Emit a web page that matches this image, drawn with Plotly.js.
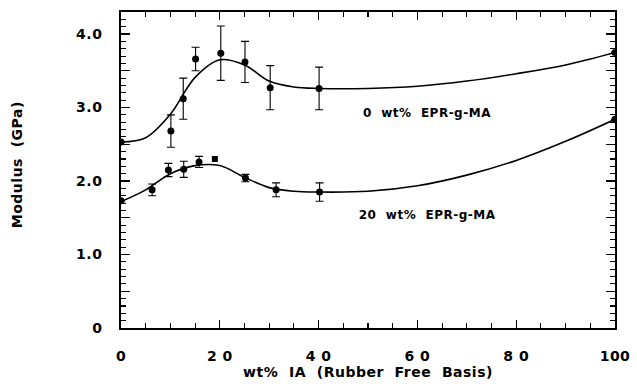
<!DOCTYPE html>
<html>
<head>
<meta charset="utf-8">
<script src="https://cdn.plot.ly/plotly-3.0.1.min.js"></script>
<style>
  html, body { margin: 0; padding: 0; background: #fff; }
  #chart { width: 637px; height: 384px; }
  .main-svg text { letter-spacing: 0.5px; }
</style>
</head>
<body>
<div id="chart"></div>
<script>
// ---- data ----
// 0 wt% EPR-g-MA : measured points
var x0 = [0, 10.1, 12.6, 15.1, 20.2, 25.1, 30.2, 40.1, 100];
var y0 = [2.53, 2.68, 3.12, 3.66, 3.74, 3.62, 3.27, 3.26, 3.75];
var e0 = [0, 0.22, 0.28, 0.16, 0.37, 0.28, 0.30, 0.29, 0];
// 0 wt% fitted curve
var cx0 = [0, 5, 10, 15, 20, 25, 30, 35, 40, 50, 60, 70, 80, 90, 100];
var cy0 = [2.53, 2.59, 2.91, 3.41, 3.65, 3.58, 3.36, 3.28, 3.26, 3.26, 3.29, 3.36, 3.46, 3.58, 3.75];

// 20 wt% EPR-g-MA : measured points
var x1 = [0, 6.3, 9.6, 12.7, 15.8, 25.2, 31.4, 40.2, 100];
var y1 = [1.73, 1.88, 2.15, 2.16, 2.26, 2.04, 1.88, 1.85, 2.84];
var e1 = [0, 0.08, 0.09, 0.11, 0.075, 0.05, 0.095, 0.125, 0];
// 20 wt% single point drawn as a square
var xs = [19.0];
var ys = [2.30];
// 20 wt% fitted curve
var cx1 = [0, 5, 10, 15, 20, 25, 30, 35, 40, 50, 60, 70, 80, 90, 100];
var cy1 = [1.72, 1.88, 2.10, 2.21, 2.21, 2.05, 1.91, 1.86, 1.85, 1.86, 1.935, 2.08, 2.28, 2.54, 2.84];

// ticks / labels
var xTickVals = [0, 20, 40, 60, 80, 100];
var xTickText = ["0", "2 0", "4 0", "6 0", "8 0", "100"];
var yTickVals = [0, 0.5, 1, 1.5, 2, 2.5, 3, 3.5, 4];
var yTickText = ["0", "", "1.0", "", "2.0", "", "3.0", "", "4.0"];
var label0 = "0  wt%  EPR-g-MA";
var label1 = "20  wt%  EPR-g-MA";
var xTitle = "wt%  IA  (Rubber  Free  Basis)";
var yTitle = "Modulus  (GPa)";

var FONT = "DejaVu Sans, Liberation Sans, Arial, sans-serif";
function f(size) { return { family: FONT, size: size, color: "#000", weight: "bold" }; }

var curveLine = { color: "#000", width: 1.6, shape: "spline", smoothing: 1 };
var errStyle = function (arr) {
  return { type: "data", array: arr, visible: true, color: "#000", thickness: 1.1, width: 4 };
};

var traces = [
  { x: cx0, y: cy0, mode: "lines", line: curveLine, hoverinfo: "skip", showlegend: false },
  { x: cx1, y: cy1, mode: "lines", line: curveLine, hoverinfo: "skip", showlegend: false },
  { x: x0, y: y0, mode: "markers", marker: { color: "#000", size: 7 }, error_y: errStyle(e0), showlegend: false },
  { x: x1, y: y1, mode: "markers", marker: { color: "#000", size: 7 }, error_y: errStyle(e1), showlegend: false },
  { x: xs, y: ys, mode: "markers", marker: { color: "#000", size: 6, symbol: "square" }, showlegend: false }
];

var layout = {
  width: 637, height: 384,
  margin: { l: 121, r: 22, t: 12, b: 56 },
  paper_bgcolor: "#fff", plot_bgcolor: "#fff",
  font: f(14),
  xaxis: {
    range: [0, 100], showgrid: false, zeroline: false,
    showline: true, linecolor: "#000", linewidth: 1.8, mirror: "allticks",
    ticks: "inside", ticklen: 8, tickwidth: 1.3, tickcolor: "#000",
    tickvals: xTickVals, ticktext: xTickText, tickfont: f(14),
    ticklabelstandoff: 14,
    minor: { dtick: 5, ticks: "inside", ticklen: 5, tickwidth: 1.1, tickcolor: "#000", showgrid: false },
    title: { text: xTitle, font: f(14), standoff: 0 }
  },
  yaxis: {
    range: [0, 4.3], showgrid: false, zeroline: false,
    showline: true, linecolor: "#000", linewidth: 1.8, mirror: "allticks",
    ticks: "inside", ticklen: 9, tickwidth: 1.3, tickcolor: "#000",
    tickvals: yTickVals, ticktext: yTickText, tickfont: f(14),
    ticklabelstandoff: 14,
    minor: { dtick: 0.1, ticks: "inside", ticklen: 5, tickwidth: 1.1, tickcolor: "#000", showgrid: false }
  },
  annotations: [
    { xref: "paper", yref: "paper", x: -0.211, y: 0.516, xanchor: "center", yanchor: "middle",
      text: yTitle, textangle: -90, showarrow: false, font: f(14) },
    { x: 62, y: 2.92, xref: "x", yref: "y", text: label0, showarrow: false, font: f(12) },
    { x: 62, y: 1.54, xref: "x", yref: "y", text: label1, showarrow: false, font: f(12) }
  ]
};

Plotly.newPlot("chart", traces, layout, { staticPlot: true, displayModeBar: false });
</script>
</body>
</html>
